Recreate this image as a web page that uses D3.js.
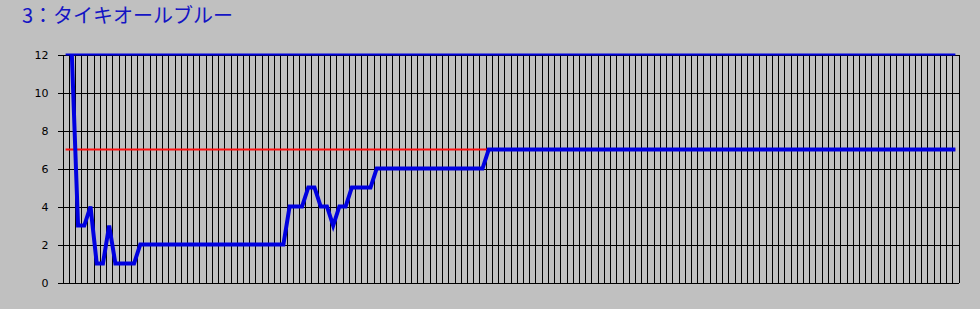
<!DOCTYPE html>
<html>
<head>
<meta charset="utf-8">
<script src="https://cdn.jsdelivr.net/npm/d3@7"></script>
<style>
  html, body { margin: 0; padding: 0; background: #c0c0c0; }
  svg { display: block; }
</style>
</head>
<body>
<div id="chart"></div>
<script>
// Chart size
var svgWidth = 980;
var svgHeight = 309;

// Title
var title = "3：タイキオールブルー";

// Y tick labels
var yTicks = [0, 2, 4, 6, 8, 10, 12];

// Number of steps along the x axis (one category per step)
var stepCount = 144;

// Position of the horse at each step (no value at the first step)
var positions = [
  null, 12, 3, 3, 4, 1, 1, 3, 1, 1, 1, 1,
  2, 2, 2, 2, 2, 2, 2, 2, 2, 2, 2, 2,
  2, 2, 2, 2, 2, 2, 2, 2, 2, 2, 2, 2,
  4, 4, 4, 5, 5, 4, 4, 3, 4, 4,
  5, 5, 5, 5,
  6, 6, 6, 6, 6, 6, 6, 6, 6, 6, 6, 6, 6, 6, 6, 6, 6, 6,
  7, 7, 7, 7, 7, 7, 7, 7, 7, 7, 7, 7, 7, 7, 7, 7, 7, 7, 7, 7,
  7, 7, 7, 7, 7, 7, 7, 7, 7, 7, 7, 7, 7, 7, 7, 7, 7, 7, 7, 7,
  7, 7, 7, 7, 7, 7, 7, 7, 7, 7, 7, 7, 7, 7, 7, 7, 7, 7, 7, 7,
  7, 7, 7, 7, 7, 7, 7, 7, 7, 7, 7, 7, 7, 7, 7, 7
];

// Constant reference lines
var fieldSize = 12;   // blue thin line
var finalPlace = 7;   // red thin line

// Plot area
var plot = { left: 62.5, right: 958.5, top: 54.5, bottom: 282.5 };

var svg = d3.select("#chart")
  .append("svg")
  .attr("width", svgWidth)
  .attr("height", svgHeight);

// Title
svg.append("text")
  .attr("x", 22)
  .attr("y", 23)
  .attr("font-family", "'Noto Sans CJK JP', sans-serif")
  .attr("font-size", 20)
  .attr("fill", "#1414c4")
  .text(title);

// Scales
var steps = d3.range(stepCount);

var xScale = d3.scaleBand()
  .domain(steps)
  .range([plot.left, plot.right]);

var yScale = d3.scaleLinear()
  .domain([0, 12])
  .range([plot.bottom, plot.top]);

var xMid = d => xScale(d) + xScale.bandwidth() / 2;

// Vertical gridlines at category boundaries
var grid = svg.append("g")
  .attr("stroke", "#000")
  .attr("stroke-width", 1)
  .attr("shape-rendering", "crispEdges");

grid.selectAll("line.v")
  .data(steps.concat([stepCount]))
  .enter()
  .append("line")
  .attr("class", "v")
  .attr("x1", d => Math.round(d < stepCount ? xScale(d) : plot.right) + 0.5)
  .attr("x2", d => Math.round(d < stepCount ? xScale(d) : plot.right) + 0.5)
  .attr("y1", plot.top)
  .attr("y2", plot.bottom);

// Horizontal gridlines
grid.selectAll("line.h")
  .data(yTicks)
  .enter()
  .append("line")
  .attr("class", "h")
  .attr("x1", plot.left)
  .attr("x2", plot.right)
  .attr("y1", d => Math.round(yScale(d)) + 0.5)
  .attr("y2", d => Math.round(yScale(d)) + 0.5);

// Y axis
var yAxis = d3.axisLeft(yScale)
  .tickValues(yTicks)
  .tickSize(6)
  .tickPadding(9);

var yAxisG = svg.append("g")
  .attr("transform", `translate(${Math.round(plot.left) + 0.5},0)`)
  .call(yAxis);

yAxisG.select(".domain").remove();
yAxisG.selectAll(".tick line")
  .attr("stroke", "#000")
  .attr("shape-rendering", "crispEdges");
yAxisG.selectAll(".tick text")
  .attr("font-family", "'DejaVu Sans', sans-serif")
  .attr("font-size", 11)
  .attr("fill", "#000");

// Reference lines
svg.append("line")
  .attr("x1", xMid(0))
  .attr("x2", xMid(stepCount - 1))
  .attr("y1", yScale(finalPlace))
  .attr("y2", yScale(finalPlace))
  .attr("stroke", "#ff1010")
  .attr("stroke-width", 2);

svg.append("line")
  .attr("x1", xMid(0))
  .attr("x2", xMid(stepCount - 1))
  .attr("y1", yScale(fieldSize))
  .attr("y2", yScale(fieldSize))
  .attr("stroke", "#0000e0")
  .attr("stroke-width", 2);

// Position line
var line = d3.line()
  .defined(d => d !== null)
  .x((d, i) => xMid(i))
  .y(d => yScale(d));

svg.append("path")
  .datum(positions)
  .attr("d", line)
  .attr("fill", "none")
  .attr("stroke", "#0000e0")
  .attr("stroke-width", 4)
  .attr("stroke-linejoin", "miter");
</script>
</body>
</html>
